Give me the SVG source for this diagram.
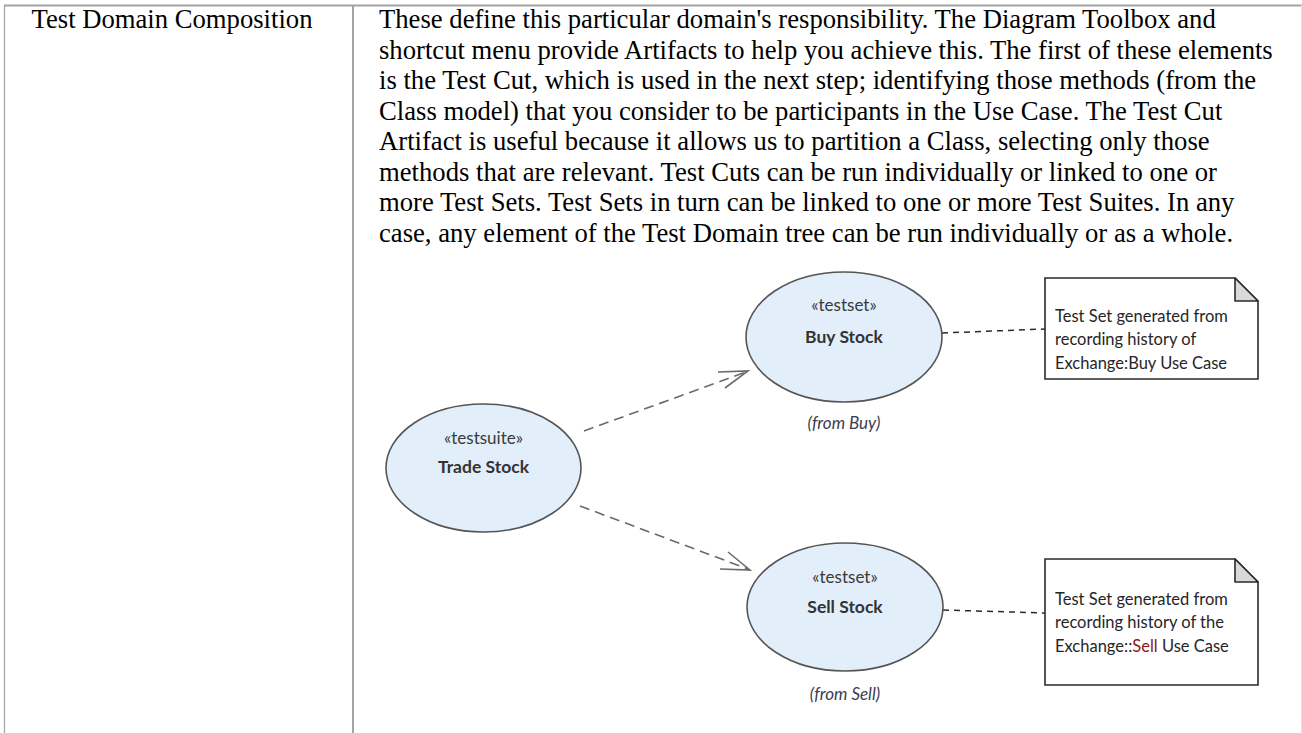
<svg xmlns="http://www.w3.org/2000/svg" width="1302" height="733" viewBox="0 0 1302 733">
<style>
.cell{font-family:"Liberation Serif","Times New Roman",serif;font-size:26.67px;fill:#000}
.uc{fill:#e3eefb;stroke:#555;stroke-width:1.6}
.st{font-family:Lato,"Liberation Sans",sans-serif;font-size:17px;fill:#3a3a3a;text-anchor:middle}
.nm{font-family:Lato,"Liberation Sans",sans-serif;font-size:17.5px;font-weight:bold;fill:#333;text-anchor:middle}
.fr{font-family:Lato,"Liberation Sans",sans-serif;font-size:17px;font-style:italic;fill:#3c3c55;text-anchor:middle}
.nt{font-family:Lato,"Liberation Sans",sans-serif;font-size:16.5px;fill:#262626}
.note{fill:#fff;stroke:#2a2a2a;stroke-width:1.6}
.fold{fill:#d9d9d9;stroke:#2a2a2a;stroke-width:1.6;stroke-linejoin:round}
.dep{fill:none;stroke:#6a6a6a;stroke-width:1.6;stroke-dasharray:10 6}
.head{fill:none;stroke:#6a6a6a;stroke-width:1.6}
.link{fill:none;stroke:#2a2a2a;stroke-width:1.5;stroke-dasharray:6 5}
</style>
<g id="table">
<line x1="4" y1="5.5" x2="1302" y2="5.5" stroke="#a3a3a3" stroke-width="2"/>
<line x1="4.5" y1="5" x2="4.5" y2="733" stroke="#a3a3a3" stroke-width="1.2"/>
<line x1="353" y1="5" x2="353" y2="733" stroke="#a3a3a3" stroke-width="2"/>
<line x1="1301.5" y1="5" x2="1301.5" y2="733" stroke="#e2e2e2" stroke-width="1"/>
</g>
<g id="label"><text class="cell" x="31.5" y="28">Test Domain Composition</text></g>
<g id="description">
<text class="cell" x="379" y="28">These define this particular domain's responsibility. The Diagram Toolbox and</text>
<text class="cell" x="379" y="58.5">shortcut menu provide Artifacts to help you achieve this. The first of these elements</text>
<text class="cell" x="379" y="89">is the Test Cut, which is used in the next step; identifying those methods (from the</text>
<text class="cell" x="379" y="119.5">Class model) that you consider to be participants in the Use Case. The Test Cut</text>
<text class="cell" x="379" y="150">Artifact is useful because it allows us to partition a Class, selecting only those</text>
<text class="cell" x="379" y="180.5">methods that are relevant. Test Cuts can be run individually or linked to one or</text>
<text class="cell" x="379" y="211">more Test Sets. Test Sets in turn can be linked to one or more Test Suites. In any</text>
<text class="cell" x="379" y="241.5">case, any element of the Test Domain tree can be run individually or as a whole.</text>
</g>
<g id="connectors">
<line class="dep" x1="584" y1="431" x2="746" y2="372"/>
<polyline class="head" points="718,372 748,371 725,388"/>
<line class="dep" x1="580" y1="506" x2="748" y2="569"/>
<polyline class="head" points="720,569 750,570 728,552"/>
<line class="link" x1="942" y1="333" x2="1045" y2="329"/>
<line class="link" x1="943" y1="610" x2="1045" y2="613"/>
</g>
<g id="trade-stock">
<ellipse class="uc" cx="483.5" cy="468" rx="97.5" ry="64"/>
<text class="st" x="483.5" y="444">«testsuite»</text>
<text class="nm" x="483.5" y="473">Trade Stock</text>
</g>
<g id="buy-stock">
<ellipse class="uc" cx="844" cy="337" rx="98" ry="65"/>
<text class="st" x="844" y="311">«testset»</text>
<text class="nm" x="844" y="343">Buy Stock</text>
<text class="fr" x="844" y="429">(from Buy)</text>
</g>
<g id="sell-stock">
<ellipse class="uc" cx="845" cy="607" rx="98" ry="64"/>
<text class="st" x="845" y="583">«testset»</text>
<text class="nm" x="845" y="613">Sell Stock</text>
<text class="fr" x="845" y="700">(from Sell)</text>
</g>
<g id="note-buy">
<path class="note" d="M1045,278 H1235 L1258,301 V379 H1045 Z"/>
<path class="fold" d="M1235,278 V301 H1258 Z"/>
<text class="nt" x="1055" y="322">Test Set generated from</text>
<text class="nt" x="1055" y="345">recording history of</text>
<text class="nt" x="1055" y="369">Exchange:Buy Use Case</text>
</g>
<g id="note-sell">
<path class="note" d="M1045,559 H1235 L1258,582 V685 H1045 Z"/>
<path class="fold" d="M1235,559 V582 H1258 Z"/>
<text class="nt" x="1055" y="605">Test Set generated from</text>
<text class="nt" x="1055" y="628">recording history of the</text>
<text class="nt" x="1055" y="652">Exchange::<tspan fill="#8b1a1a">Sell</tspan> Use Case</text>
</g>
</svg>
